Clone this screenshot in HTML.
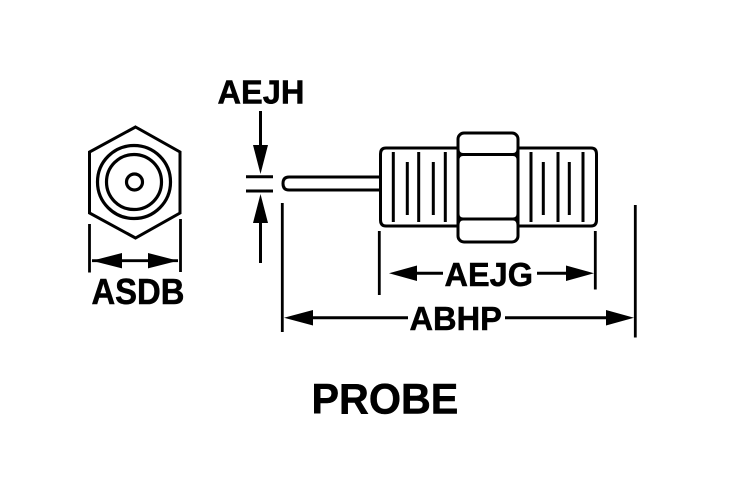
<!DOCTYPE html>
<html><head><meta charset="utf-8"><style>
html,body{margin:0;padding:0;background:#fff}
svg{display:block}
text{font-family:"Liberation Sans",Arial,sans-serif;font-weight:bold;fill:#000;stroke:#000;stroke-width:.5}
</style></head><body>
<svg width="729" height="486" viewBox="0 0 729 486" xmlns="http://www.w3.org/2000/svg">
<rect width="729" height="486" fill="#fff"/>
<g fill="none" stroke="#000" stroke-width="3">
<polygon points="135.5,127 180,152 180,213 135.5,238 89.5,213 89.5,152"/>
<circle cx="134" cy="182" r="36.5" stroke-width="3.2"/>
<circle cx="134" cy="182" r="27.5" stroke-width="3.2"/>
<circle cx="134.5" cy="182" r="8" stroke-width="3.2"/>
<g stroke-width="2.8">
<path d="M89.5 224V272.5M180.5 219V272M92 260.7H178"/>
<path d="M260.5 111V150M260.5 218V263" stroke-width="3"/>
<path d="M246 176.7H273M246 191H273" stroke-width="3"/>
<path d="M282.3 203V332M635.3 205V337.5M379.3 231V295M595.3 231V289.5"/>
<path d="M416 273.3H443M537 273.3H567M312 317.7H408M505 317.7H607" stroke-width="3"/>
</g>
<path d="M381 177H289Q283 177 283 183.5Q283 190 289 190H381" stroke-width="3"/>
<path d="M458 148H386Q380.500 148 380.500 154V220Q380.500 226 386 226H458" stroke-width="3"/>
<path d="M518 148H591Q596.500 148 596.500 154V220Q596.500 226 591 226H518" stroke-width="3"/>
<rect x="458" y="133" width="60" height="109" rx="6" stroke-width="3"/>
<path d="M458 149Q458 154.500 463 154.500H513Q518 154.500 518 149M458 160Q458 154.500 463 154.500M518 160Q518 154.500 513 154.500" stroke-width="3"/>
<path d="M458 225Q458 219 463 219H513Q518 219 518 225M458 214Q458 219 463 219M518 214Q518 219 513 219" stroke-width="3"/>
<path d="M393.300 152V222M418.700 152V222M445.300 152V222M531 152V222M558 152V222M583 152V222" stroke-width="3"/>
<path d="M407.300 162V215M433.300 162V215M543.300 162V215M569.300 162V215" stroke-width="3"/>
</g>
<g fill="#000">
<polygon points="92,260.700 122,253 122,268.400"/>
<polygon points="178,260.700 148,253 148,268.400"/>
<polygon points="260.500,174 253,145 268,145"/>
<polygon points="260.500,194 253,223 268,223"/>
<polygon points="389,273.300 417,265.500 417,281"/>
<polygon points="594,273.300 566,265.500 566,281"/>
<polygon points="284,317.700 313,310 313,325.500"/>
<polygon points="634,317.700 606,310 606,325.500"/>
</g>
<text transform="translate(91.500,304) scale(1,1.1)" font-size="32.800">ASDB</text>
<text transform="translate(217.500,103.500) scale(1,1.03)" font-size="32.600">AEJH</text>
<text transform="translate(444.500,286) scale(1,1.03)" font-size="32.500">AEJG</text>
<text transform="translate(409.500,330) scale(1,1.03)" font-size="32.600">ABHP</text>
<text transform="translate(311.500,413.500) scale(1,1.03)" font-size="41.300">PROBE</text>
</svg>
</body></html>
